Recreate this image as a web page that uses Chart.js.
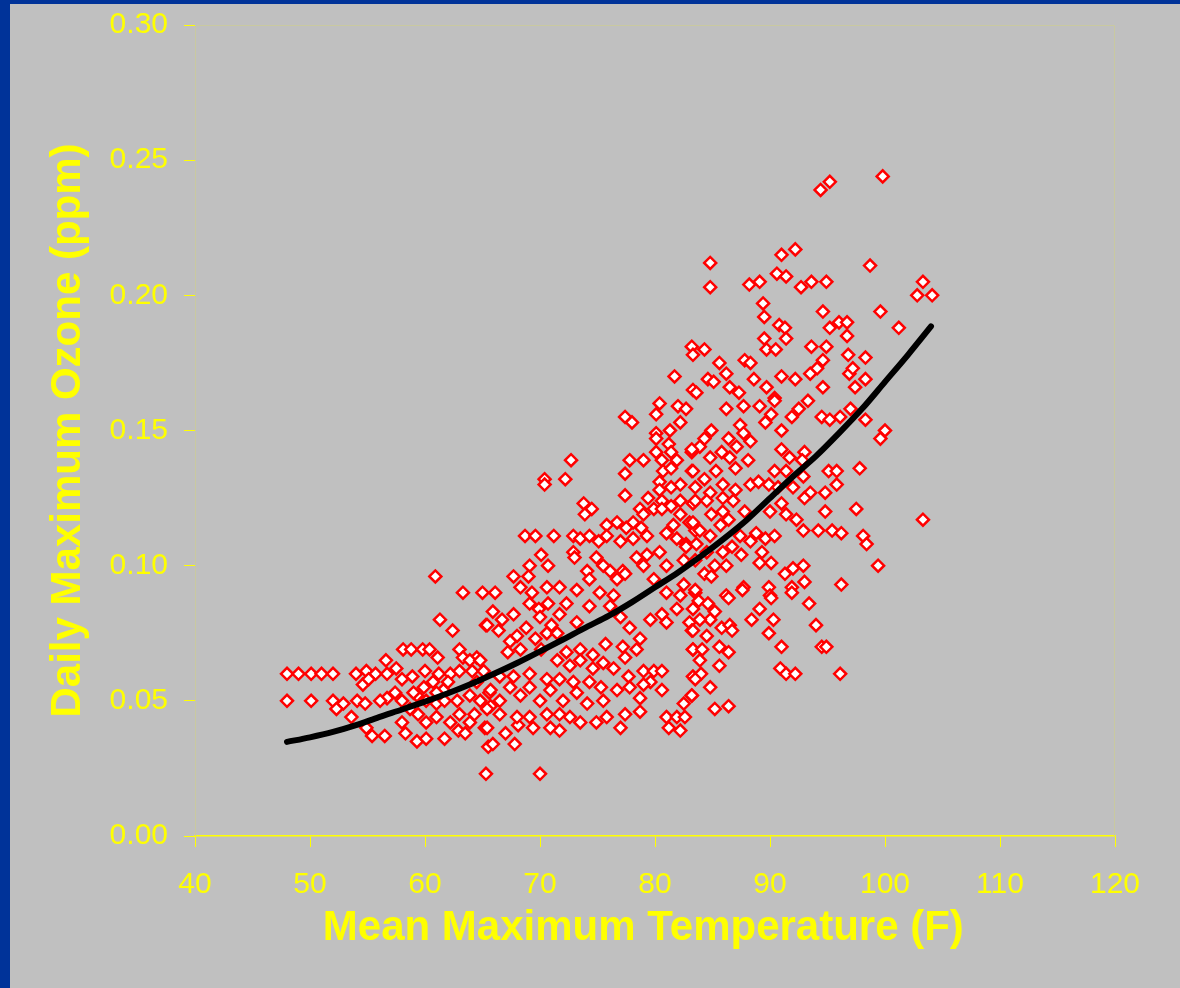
<!DOCTYPE html>
<html>
<head>
<meta charset="utf-8">
<title>Daily Maximum Ozone vs Temperature</title>
<script src="https://cdn.jsdelivr.net/npm/chart.js@4"></script>
<style>
  html, body { margin: 0; padding: 0; width: 1180px; height: 988px; overflow: hidden; background: #003399; }
  #wrap { position: absolute; left: 10px; top: 4px; width: 1170px; height: 984px; background: #c0c0c0; }
</style>
</head>
<body>
<div id="wrap"><canvas id="ozoneChart"></canvas></div>
<script>
// daily observations, read off the picture region by region
// cool days (48-66 F)
const coolTemp = [
  48.0, 49.0, 50.1, 51.0, 52.0, 48.0, 50.1, 60.9, 63.3, 65.0,
  61.3, 62.4, 65.3, 58.1, 58.8, 59.8, 60.4, 61.1, 63.0, 63.3,
  64.5, 56.6, 54.0, 54.9, 55.7, 56.7, 57.5, 58.0, 54.6, 55.1,
  58.9, 60.0, 61.2, 62.2, 63.0, 64.1, 65.1, 59.9, 60.7, 62.0,
  57.4, 56.7, 52.0, 52.9, 54.1, 54.8, 56.1, 52.3, 53.6, 54.9,
  55.4, 56.5, 58.0, 58.7, 59.3, 60.1, 61.0, 61.7, 62.8, 63.9,
  64.8, 58.0, 58.3, 59.3, 60.1, 59.4, 60.1, 61.0, 61.7, 62.2,
  62.9, 63.5, 63.9, 64.3, 65.2, 63.0, 65.5, 65.3, 65.6, 65.7,
  64.5, 63.9, 61.6, 61.0, 59.0
];
const coolOzone = [
  0.060, 0.060, 0.060, 0.060, 0.060, 0.050, 0.050, 0.096, 0.090, 0.090,
  0.080, 0.076, 0.078, 0.069, 0.069, 0.069, 0.069, 0.066, 0.069, 0.066,
  0.066, 0.065, 0.060, 0.061, 0.060, 0.060, 0.062, 0.058, 0.056, 0.058,
  0.059, 0.061, 0.060, 0.060, 0.061, 0.061, 0.061, 0.055, 0.057, 0.057,
  0.053, 0.051, 0.050, 0.049, 0.050, 0.049, 0.050, 0.047, 0.044, 0.040,
  0.037, 0.037, 0.050, 0.047, 0.052, 0.050, 0.049, 0.050, 0.050, 0.052,
  0.050, 0.042, 0.038, 0.035, 0.036, 0.045, 0.042, 0.044, 0.036, 0.042,
  0.039, 0.038, 0.042, 0.045, 0.040, 0.045, 0.033, 0.023, 0.053, 0.048,
  0.057, 0.065, 0.054, 0.053, 0.053
];

// mild days, low ozone (65-84 F, below 0.087)
const mildLowTemp = [
  65.9, 67.7, 65.4, 66.4, 66.7, 68.8, 68.0, 67.4, 68.3, 67.2,
  69.1, 69.9, 70.7, 70.0, 71.0, 71.7, 72.3, 73.2, 70.6, 71.5,
  69.6, 70.1, 74.3, 76.1, 77.0, 77.8, 79.6, 81.0, 80.6, 81.9,
  83.3, 83.0, 83.2, 78.7, 78.4, 77.2, 75.7, 74.6, 73.5, 72.3,
  71.5, 72.6, 73.5, 74.6, 75.5, 76.4, 77.4, 77.7, 79.0, 79.9,
  79.6, 80.6, 78.7, 78.7, 77.4, 77.0, 75.8, 74.9, 73.5, 71.7,
  70.9, 69.4, 68.1, 67.0, 65.9, 67.8, 65.4, 70.0, 81.0, 81.9,
  82.6, 81.2, 82.2, 82.5, 83.2, 83.3, 83.3, 80.6, 79.0, 77.8,
  76.7, 75.5, 74.1, 73.2, 72.0, 70.9, 70.0, 69.1, 68.3, 67.4,
  66.5, 65.7, 66.5, 67.7, 69.1, 70.6, 71.7, 72.9, 74.3, 75.3,
  65.4, 66.5, 68.0, 69.1, 70.6, 71.7, 72.6, 64.8
];
const mildLowOzone = [
  0.083, 0.082, 0.078, 0.076, 0.080, 0.077, 0.074, 0.072, 0.069, 0.068,
  0.086, 0.084, 0.086, 0.081, 0.078, 0.082, 0.086, 0.079, 0.075, 0.075,
  0.073, 0.069, 0.085, 0.085, 0.081, 0.077, 0.080, 0.079, 0.082, 0.084,
  0.084, 0.079, 0.076, 0.073, 0.069, 0.070, 0.071, 0.067, 0.069, 0.068,
  0.065, 0.063, 0.065, 0.062, 0.064, 0.062, 0.066, 0.059, 0.061, 0.061,
  0.057, 0.054, 0.051, 0.046, 0.045, 0.040, 0.044, 0.042, 0.042, 0.039,
  0.040, 0.040, 0.041, 0.038, 0.034, 0.034, 0.040, 0.023, 0.044, 0.044,
  0.044, 0.040, 0.039, 0.049, 0.052, 0.069, 0.059, 0.061, 0.056, 0.055,
  0.054, 0.050, 0.049, 0.053, 0.050, 0.054, 0.050, 0.055, 0.052, 0.055,
  0.050, 0.054, 0.059, 0.059, 0.060, 0.058, 0.058, 0.057, 0.057, 0.055,
  0.047, 0.045, 0.044, 0.044, 0.045, 0.045, 0.044, 0.065
];

// mild days, high ozone (66-84 F, above 0.087)
const mildHighTemp = [
  77.4, 78.0, 72.7, 70.4, 70.4, 72.2, 77.8, 79.0, 77.4, 77.4,
  73.8, 74.5, 73.9, 79.4, 80.4, 82.0, 82.7, 80.1, 82.2, 81.3,
  80.1, 80.1, 81.2, 80.1, 81.4, 81.9, 80.6, 83.2, 83.2, 80.7,
  81.4, 80.4, 82.2, 81.4, 80.4, 82.2, 80.6, 83.3, 81.4, 79.9,
  78.7, 79.0, 82.2, 80.6, 83.0, 81.6, 78.8, 78.1, 77.5, 76.7,
  75.8, 68.7, 69.6, 71.2, 72.9, 73.5, 74.3, 75.1, 75.8, 77.0,
  78.1, 79.3, 81.0, 81.9, 82.7, 83.5, 70.1, 69.1, 70.7, 67.7,
  69.0, 72.9, 73.0, 74.9, 75.5, 74.1, 76.1, 77.2, 78.4, 79.3,
  79.0, 80.4, 81.0, 82.5, 82.7, 68.3, 69.3, 66.1, 70.6, 71.7,
  73.2, 74.3, 75.2, 76.7, 77.4, 76.4, 79.9, 81.0, 82.5, 82.2,
  83.5, 81.7, 83.3
];
const mildHighOzone = [
  0.155, 0.153, 0.139, 0.132, 0.130, 0.132, 0.139, 0.139, 0.134, 0.126,
  0.123, 0.121, 0.119, 0.125, 0.160, 0.159, 0.158, 0.156, 0.153, 0.150,
  0.149, 0.147, 0.145, 0.142, 0.142, 0.139, 0.139, 0.142, 0.135, 0.135,
  0.136, 0.131, 0.130, 0.129, 0.128, 0.124, 0.124, 0.123, 0.122, 0.121,
  0.121, 0.119, 0.119, 0.121, 0.116, 0.115, 0.114, 0.116, 0.114, 0.116,
  0.115, 0.111, 0.111, 0.111, 0.111, 0.110, 0.111, 0.109, 0.111, 0.109,
  0.110, 0.111, 0.112, 0.110, 0.108, 0.113, 0.104, 0.100, 0.100, 0.096,
  0.096, 0.105, 0.103, 0.103, 0.100, 0.098, 0.098, 0.098, 0.103, 0.104,
  0.100, 0.105, 0.100, 0.102, 0.107, 0.092, 0.090, 0.090, 0.092, 0.092,
  0.091, 0.095, 0.090, 0.095, 0.097, 0.089, 0.095, 0.090, 0.093, 0.089,
  0.090, 0.170, 0.165
];

// hot days, ozone above 0.16
const hotTopTemp = [
  94.4, 95.2, 99.8, 91.0, 92.2, 84.8, 84.8, 98.7, 103.3, 102.8,
  104.1, 88.2, 89.1, 90.6, 91.4, 92.7, 93.6, 94.9, 89.4, 89.5,
  94.6, 99.6, 101.2, 90.8, 91.3, 95.2, 96.0, 96.7, 96.7, 91.4,
  89.5, 89.7, 90.5, 93.6, 94.9, 94.6, 96.8, 98.3, 83.2, 83.3,
  84.3, 85.6, 87.8, 88.3, 86.2, 84.6, 85.1, 86.5, 87.3, 88.6,
  89.7, 91.0, 92.2, 93.5, 94.1, 96.9, 97.2, 98.3, 94.6, 97.4,
  83.6, 90.4
];
const hotTopOzone = [
  0.239, 0.242, 0.244, 0.215, 0.217, 0.212, 0.203, 0.211, 0.205, 0.200,
  0.200, 0.204, 0.205, 0.208, 0.207, 0.203, 0.205, 0.205, 0.197, 0.192,
  0.194, 0.194, 0.188, 0.189, 0.188, 0.188, 0.190, 0.190, 0.185, 0.184,
  0.184, 0.180, 0.180, 0.181, 0.181, 0.176, 0.178, 0.177, 0.181, 0.178,
  0.180, 0.175, 0.176, 0.175, 0.171, 0.169, 0.168, 0.166, 0.164, 0.169,
  0.166, 0.170, 0.169, 0.171, 0.173, 0.171, 0.173, 0.169, 0.166, 0.166,
  0.164, 0.162
];

// hot days, ozone 0.09 - 0.16
const hotMidTemp = [
  86.2, 87.7, 89.1, 90.4, 89.6, 90.1, 91.9, 92.5, 93.3, 94.5,
  95.2, 96.1, 97.0, 98.3, 100.0, 99.6, 91.0, 84.9, 84.3, 87.4,
  87.7, 86.4, 88.3, 87.1, 83.9, 83.2, 85.8, 84.8, 86.5, 88.1,
  91.0, 93.0, 91.7, 92.8, 83.3, 85.3, 87.0, 90.4, 91.4, 95.1,
  95.8, 97.8, 84.3, 85.9, 88.3, 89.0, 89.9, 90.7, 92.0, 92.9,
  83.5, 87.0, 84.8, 95.8, 94.8, 93.5, 93.0, 83.5, 84.5, 85.9,
  86.8, 91.0, 97.5, 94.8, 103.3, 84.9, 85.9, 87.8, 90.0, 91.4,
  92.3, 92.9, 94.2, 95.4, 96.2, 98.1, 98.4, 83.3, 83.9, 85.7,
  86.4, 84.8, 87.4, 88.8, 89.6, 90.4, 88.3, 83.6, 86.7, 85.9,
  87.5, 89.3, 84.5, 83.5, 85.2, 86.2, 89.1, 90.1, 91.3, 92.0,
  92.9, 84.3, 84.9, 99.4, 96.2, 93.0, 91.9, 89.9, 87.7, 86.2,
  90.0, 83.5
];
const hotMidOzone = [
  0.158, 0.159, 0.159, 0.161, 0.153, 0.156, 0.155, 0.158, 0.161, 0.155,
  0.154, 0.155, 0.158, 0.154, 0.150, 0.147, 0.150, 0.150, 0.147, 0.152,
  0.149, 0.147, 0.146, 0.144, 0.144, 0.143, 0.142, 0.140, 0.140, 0.139,
  0.143, 0.142, 0.140, 0.139, 0.135, 0.135, 0.136, 0.135, 0.135, 0.135,
  0.135, 0.136, 0.132, 0.130, 0.130, 0.131, 0.130, 0.129, 0.129, 0.133,
  0.129, 0.128, 0.127, 0.130, 0.127, 0.127, 0.125, 0.124, 0.124, 0.125,
  0.124, 0.123, 0.121, 0.120, 0.117, 0.119, 0.120, 0.120, 0.120, 0.119,
  0.117, 0.113, 0.113, 0.113, 0.112, 0.111, 0.108, 0.116, 0.113, 0.115,
  0.117, 0.111, 0.111, 0.112, 0.110, 0.111, 0.109, 0.108, 0.107, 0.105,
  0.104, 0.105, 0.105, 0.102, 0.100, 0.100, 0.101, 0.101, 0.097, 0.099,
  0.100, 0.097, 0.096, 0.100, 0.093, 0.094, 0.092, 0.092, 0.092, 0.089,
  0.089, 0.091
];

// hot days, ozone below 0.09
const hotLowTemp = [
  86.4, 87.6, 90.1, 91.9, 93.4, 89.1, 90.3, 88.4, 94.0, 83.8,
  84.6, 85.2, 84.8, 83.9, 85.8, 86.5, 86.7, 83.3, 84.5, 89.9,
  91.0, 85.6, 86.4, 83.3, 84.1, 94.5, 94.9, 83.9, 85.6, 90.9,
  91.4, 92.2, 96.1, 84.0, 83.5, 84.8, 83.2, 85.2, 86.4
];
const hotLowOzone = [
  0.088, 0.091, 0.088, 0.090, 0.086, 0.084, 0.080, 0.080, 0.078, 0.087,
  0.086, 0.083, 0.080, 0.080, 0.077, 0.078, 0.076, 0.076, 0.074, 0.075,
  0.070, 0.070, 0.068, 0.069, 0.069, 0.070, 0.070, 0.065, 0.063, 0.062,
  0.060, 0.060, 0.060, 0.060, 0.058, 0.055, 0.052, 0.047, 0.048
];

// fitted curve
const fitTemp = [48, 50, 52, 54, 56, 58, 60, 62, 64, 66, 68, 70, 72, 74, 76,
  78, 80, 82, 84, 86, 88, 90, 92, 94, 96, 98, 100, 102, 104];
const fitOzone = [0.0348, 0.0365, 0.0385, 0.0410, 0.0440, 0.0468, 0.0497, 0.0528,
  0.0562, 0.0600, 0.0640, 0.0683, 0.0727, 0.0772, 0.0815, 0.0865, 0.0920, 0.0975,
  0.1035, 0.1100, 0.1170, 0.1250, 0.1330, 0.1405, 0.1490, 0.1580, 0.1680, 0.1780, 0.1885];

const xTicks = [40, 50, 60, 70, 80, 90, 100, 110, 120];
const yTicks = [0, 0.05, 0.10, 0.15, 0.20, 0.25, 0.30];

const yellow = "#ffff00";
const fontFamily = "'Liberation Sans', Arial, sans-serif";

const zip = (xs, ys) => xs.map((x, i) => ({ x, y: ys[i] }));

const observations = [
  ...zip(coolTemp, coolOzone),
  ...zip(mildLowTemp, mildLowOzone),
  ...zip(mildHighTemp, mildHighOzone),
  ...zip(hotTopTemp, hotTopOzone),
  ...zip(hotMidTemp, hotMidOzone),
  ...zip(hotLowTemp, hotLowOzone),
];

// faint frame around the plot (top, left and right sides)
const plotFrame = {
  id: "plotFrame",
  beforeDatasetsDraw(chart) {
    const { ctx, chartArea: a } = chart;
    ctx.save();
    ctx.strokeStyle = "#c9c9a0";
    ctx.lineWidth = 1;
    ctx.beginPath();
    ctx.moveTo(a.left + 0.5, a.bottom);
    ctx.lineTo(a.left + 0.5, a.top + 0.5);
    ctx.lineTo(a.right - 0.5, a.top + 0.5);
    ctx.lineTo(a.right - 0.5, a.bottom);
    ctx.stroke();
    ctx.restore();
  },
};

new Chart(document.getElementById("ozoneChart"), {
  type: "scatter",
  data: {
    datasets: [
      {
        label: "Fit",
        data: zip(fitTemp, fitOzone),
        showLine: true,
        borderColor: "#000000",
        borderWidth: 6,
        borderCapStyle: "round",
        cubicInterpolationMode: "monotone",
        pointRadius: 0,
        order: 0,
      },
      {
        label: "Daily maximum ozone",
        data: observations,
        pointStyle: "rectRot",
        pointRadius: 6,
        pointBorderWidth: 2.5,
        pointBackgroundColor: "#ffffff",
        pointBorderColor: "#ff0000",
        order: 1,
      },
    ],
  },
  options: {
    responsive: true,
    maintainAspectRatio: false,
    animation: false,
    layout: { padding: { top: 21, right: 65, left: 0, bottom: 0 } },
    plugins: { legend: { display: false }, tooltip: { enabled: false } },
    scales: {
      x: {
        type: "linear",
        min: xTicks[0],
        max: xTicks[xTicks.length - 1],
        afterBuildTicks: (s) => { s.ticks = xTicks.map((v) => ({ value: v })); },
        afterFit: (s) => {
          s.height = 152;
          s.paddingLeft = 0;
          s.paddingRight = 0;
        },
        ticks: { color: yellow, font: { family: fontFamily, size: 30 }, padding: 20 },
        grid: { drawOnChartArea: false, color: yellow, tickLength: 11 },
        border: { color: yellow, width: 1.5 },
        title: {
          display: true,
          text: "Mean Maximum Temperature (F)  ",
          color: yellow,
          font: { family: fontFamily, size: 42, weight: "bold" },
          padding: { top: 0, bottom: 34 },
        },
      },
      y: {
        type: "linear",
        min: yTicks[0],
        max: yTicks[yTicks.length - 1],
        afterBuildTicks: (s) => { s.ticks = yTicks.map((v) => ({ value: v })); },
        afterFit: (s) => {
          s.width = 185;
          s.paddingTop = 0;
          s.paddingBottom = 0;
        },
        ticks: {
          color: yellow,
          font: { family: fontFamily, size: 30 },
          padding: 16,
          callback: (v) => Number(v).toFixed(2),
        },
        grid: { drawOnChartArea: false, color: yellow, tickLength: 11 },
        border: { display: false },
        title: {
          display: true,
          text: "Daily Maximum Ozone (ppm)",
          color: yellow,
          font: { family: fontFamily, size: 42, weight: "bold" },
          padding: { top: 33, bottom: 0 },
        },
      },
    },
  },
  plugins: [plotFrame],
});
</script>
</body>
</html>
